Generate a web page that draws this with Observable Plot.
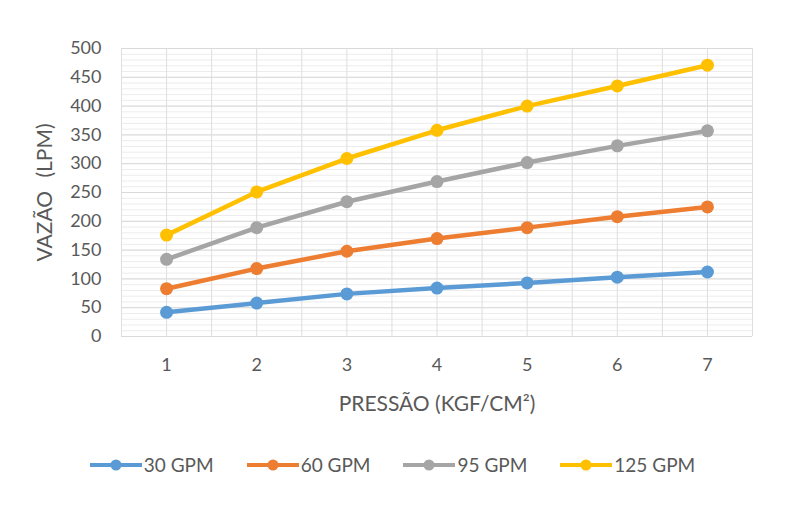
<!DOCTYPE html>
<html>
<head>
<meta charset="utf-8">
<script src="https://cdn.jsdelivr.net/npm/d3@7"></script>
<script src="https://cdn.jsdelivr.net/npm/@observablehq/plot@0.6"></script>
<style>
  body { margin: 0; background: #fff; font-family: Lato, "Open Sans", sans-serif; }
  #legend { display: flex; justify-content: center; gap: 32px; margin-top: 13px; padding-right: 18px; color: #595959; font-size: 19px; }
  .item { display: flex; align-items: center; }
  .item svg { margin-right: 1px; }
  .ylab { word-spacing: 8px; }
</style>
</head>
<body>
<div id="chart"></div>
<div id="legend"></div>
<script>
const pressures = [1, 2, 3, 4, 5, 6, 7];
const seriesNames = ["30 GPM", "60 GPM", "95 GPM", "125 GPM"];
const colors = ["#5B9BD5", "#ED7D31", "#A5A5A5", "#FFC000"];
const gpm30 = [42, 58, 74, 84, 93, 103, 112];
const gpm60 = [83, 118, 148, 170, 189, 208, 225];
const gpm95 = [134, 189, 234, 269, 302, 331, 357];
const gpm125 = [176, 251, 309, 358, 400, 435, 471];
const yTicks = [0, 50, 100, 150, 200, 250, 300, 350, 400, 450, 500];
const xLabel = "PRESSÃO (KGF/CM²)";
const yLabel = "VAZÃO (LPM)";

const allSeries = [gpm30, gpm60, gpm95, gpm125];
const data = allSeries.flatMap((vals, i) => vals.map((v, j) => ({series: seriesNames[i], x: pressures[j], y: v})));

const minor = d3.range(0, 501, 10);
const vgrid = d3.range(0.5, 7.51, 0.5);

const chart = Plot.plot({
  width: 802,
  height: 440,
  marginLeft: 121,
  marginRight: 50,
  marginTop: 48,
  marginBottom: 104,
  style: { fontFamily: "Lato, 'Open Sans', sans-serif", fontSize: "18px", color: "#595959", background: "#fff" },
  x: { domain: [0.5, 7.5], ticks: pressures, label: null },
  y: { domain: [0, 500], ticks: yTicks, label: null },
  color: { domain: seriesNames, range: colors },
  marks: [
    Plot.ruleY(minor, { stroke: "#ececec", strokeWidth: 1 }),
    Plot.ruleY(yTicks, { stroke: "#d9d9d9", strokeWidth: 1 }),
    Plot.ruleX(vgrid, { stroke: "#dedede", strokeWidth: 1 }),
    Plot.axisY({ ticks: yTicks, tickSize: 0, tickPadding: 20, fill: "#595959", label: null }),
    Plot.axisX({ ticks: pressures, tickSize: 0, tickPadding: 22, fill: "#595959", label: null, tickFormat: d3.format("d") }),
    Plot.line(data, { x: "x", y: "y", z: "series", stroke: "series", strokeWidth: 4.5 }),
    Plot.dot(data, { x: "x", y: "y", fill: "series", r: 6.5 }),
    Plot.text([xLabel], { frameAnchor: "bottom", lineAnchor: "middle", dy: 68, fill: "#595959", fontSize: 21 }),
    Plot.text([yLabel], { frameAnchor: "left", textAnchor: "middle", dx: -76, rotate: -90, fill: "#595959", fontSize: 21, className: "ylab" })
  ]
});
document.getElementById("chart").appendChild(chart);

const legend = document.getElementById("legend");
seriesNames.forEach((name, i) => {
  const item = document.createElement("div");
  item.className = "item";
  item.innerHTML = `<svg width="54" height="16"><line x1="1" x2="53" y1="8" y2="8" stroke="${colors[i]}" stroke-width="4"/><circle cx="27" cy="8" r="5.5" fill="${colors[i]}"/></svg><span>${name}</span>`;
  legend.appendChild(item);
});
</script>
</body>
</html>
